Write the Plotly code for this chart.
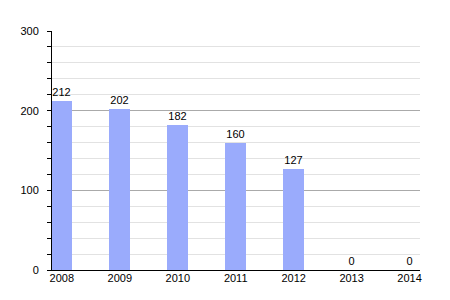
import plotly.graph_objects as go

years = ["2008", "2009", "2010", "2011", "2012", "2013", "2014"]
values = [212, 202, 182, 160, 127, 0, 0]

fig = go.Figure()
fig.add_trace(go.Bar(
    x=years, y=values,
    marker=dict(color="#9aabfc", line=dict(width=0)),
    width=0.36,
    text=[str(v) for v in values],
    textposition="outside",
    textfont=dict(color="black", size=11, family="Liberation Sans"),
    cliponaxis=False,
))
fig.update_layout(
    width=442, height=292,
    margin=dict(l=42, r=30, t=23, b=30),
    plot_bgcolor="white", paper_bgcolor="white",
    font=dict(family="Liberation Sans", size=11, color="black"),
    showlegend=False,
    bargap=0,
)
fig.update_xaxes(
    type="category", range=[-0.17, 6.18],
    showline=True, linecolor="black", linewidth=1,
    ticks="", showgrid=False, tickfont=dict(size=11),
    ticklabelstandoff=-2,
)
fig.update_yaxes(
    range=[0, 300], dtick=100, tick0=0,
    showline=True, linecolor="black", linewidth=1,
    showgrid=True, gridcolor="#aaaaaa", gridwidth=1,
    ticks="outside", ticklen=4, tickcolor="black",
    minor=dict(dtick=20, showgrid=True, gridcolor="#e2e2e2", ticks="outside", ticklen=4, tickcolor="black"),
    zeroline=False, tickfont=dict(size=11),
    ticklabelstandoff=6,
)
fig.write_html("out.html")
